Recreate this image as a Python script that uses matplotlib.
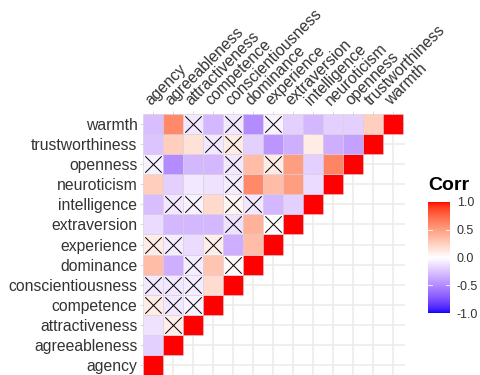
import numpy as np
import matplotlib
matplotlib.use('Agg')
import matplotlib.pyplot as plt
from matplotlib.colors import ListedColormap, Normalize
from matplotlib.cm import ScalarMappable

plt.rcParams['font.family'] = ['Liberation Sans', 'DejaVu Sans']

variables = ['agency', 'agreeableness', 'attractiveness', 'competence',
             'conscientiousness', 'dominance', 'experience', 'extraversion',
             'intelligence', 'neuroticism', 'openness', 'trustworthiness',
             'warmth']

# lower triangle, row i holds correlations with variables 0..i-1
corr_rows = [
    [],
    [-0.20],
    [-0.12, 0.08],
    [0.10, -0.10, -0.05],
    [-0.10, -0.10, -0.08, 0.18],
    [0.35, -0.35, -0.08, 0.30, 0.02],
    [0.10, -0.08, -0.15, 0.08, -0.35, 0.35],
    [-0.15, -0.30, -0.30, -0.30, -0.12, 0.40, 0.00],
    [-0.28, -0.10, -0.05, 0.20, 0.05, -0.10, -0.30, -0.20],
    [0.25, -0.20, -0.10, -0.12, -0.08, 0.60, 0.35, 0.50, -0.15],
    [-0.05, -0.50, -0.30, -0.30, -0.10, 0.35, 0.10, 0.50, -0.20, 0.62],
    [-0.25, 0.25, 0.15, -0.10, 0.10, -0.20, -0.45, -0.35, 0.10, -0.35, -0.40],
    [-0.28, 0.60, -0.10, -0.30, -0.10, -0.50, -0.05, -0.20, -0.30, -0.20, -0.20, 0.25],
]

# non-significant pairs (row, col)
insig = [(2, 1), (3, 0), (3, 1), (3, 2), (4, 0), (4, 1), (4, 2),
         (5, 2), (5, 4), (6, 0), (6, 1), (6, 3), (7, 4), (7, 6),
         (8, 1), (8, 2), (8, 4), (8, 5), (9, 4), (10, 0), (10, 4), (10, 6),
         (11, 3), (11, 4), (12, 2), (12, 4), (12, 6)]


# blue-white-red gradient interpolated in CIELAB like ggplot
M = np.array([[0.4124, 0.3576, 0.1805],
              [0.2126, 0.7152, 0.0722],
              [0.0193, 0.1192, 0.9505]])
wp = M @ np.ones(3)
d = 6 / 29


def to_lab(c):
    c = np.asarray(c, float)
    lin = np.where(c <= 0.04045, c / 12.92, ((c + 0.055) / 1.055) ** 2.4)
    xyz = M @ lin / wp
    f = np.where(xyz > d ** 3, np.cbrt(xyz), xyz / (3 * d ** 2) + 4 / 29)
    return np.array([116 * f[1] - 16, 500 * (f[0] - f[1]), 200 * (f[1] - f[2])])


def from_lab(lab):
    fy = (lab[0] + 16) / 116
    f = np.array([fy + lab[1] / 500, fy, fy - lab[2] / 200])
    xyz = np.where(f > d, f ** 3, 3 * d ** 2 * (f - 4 / 29)) * wp
    lin = np.clip(np.linalg.solve(M, xyz), 0, 1)
    c = np.where(lin <= 0.0031308, 12.92 * lin, 1.055 * lin ** (1 / 2.4) - 0.055)
    return np.clip(c, 0, 1)


lab_b, lab_w, lab_r = to_lab([0, 0, 1]), to_lab([1, 1, 1]), to_lab([1, 0, 0])
cols = []
for t in np.linspace(-1, 1, 256):
    end = lab_b if t < 0 else lab_r
    cols.append(from_lab(lab_w + abs(t) * (end - lab_w)))
cmap = ListedColormap(cols)
norm = Normalize(-1, 1)

n = len(variables)

fig = plt.figure(figsize=(4.8, 3.75), dpi=100)
ax = fig.add_axes([143 / 480, 0, 262 / 480, 261 / 375])

for k in range(n):
    ax.axvline(k, color='#EBEBEB', lw=1.1, zorder=0)
    ax.axhline(k, color='#EBEBEB', lw=1.1, zorder=0)

for i, row in enumerate(corr_rows):
    vals = list(row) + [1.0]
    ax.bar(range(i + 1), 1, bottom=i - 0.5, width=1,
           color=[cmap(norm(v)) for v in vals],
           edgecolor='#D9CCD9', linewidth=0.4, zorder=1)

xs = [c for r, c in insig]
ys = [r for r, c in insig]
ax.scatter(xs, ys, marker='x', s=140, color='black', linewidths=0.7, zorder=2)

ax.set_xlim(-0.5, n - 0.4)
ax.set_ylim(-0.5, n - 0.5)
for s in ax.spines.values():
    s.set_visible(False)

ax.set_yticks(range(n))
ax.set_yticklabels(variables, fontsize=11.3, color='#333333')
ax.xaxis.tick_top()
ax.set_xticks(range(n))
ax.set_xticklabels(variables, fontsize=11.3, color='#333333', rotation=45,
                   ha='left', va='bottom', rotation_mode='anchor')
ax.tick_params(axis='both', length=2, width=0.5, color='#CCCCCC', pad=2)

cax = fig.add_axes([428 / 480, 1 - 313 / 375, 22 / 480, 111 / 375])
cb = fig.colorbar(ScalarMappable(norm=norm, cmap=cmap), cax=cax,
                  ticks=[-1, -0.5, 0, 0.5, 1])
cb.outline.set_visible(False)
cb.ax.set_yticklabels(['-1.0', '-0.5', '0.0', '0.5', '1.0'], fontsize=9, color='#333333')
cb.ax.tick_params(length=0, pad=5)
for v in [-0.5, 0, 0.5]:
    cb.ax.plot([0, 0.2], [v, v], color='white', lw=0.6, transform=cb.ax.get_yaxis_transform())
    cb.ax.plot([0.8, 1], [v, v], color='white', lw=0.6, transform=cb.ax.get_yaxis_transform())
fig.text(428 / 480, 1 - 186 / 375, 'Corr', fontsize=14, fontweight='bold',
         va='center', ha='left')

fig.savefig('out.png')
